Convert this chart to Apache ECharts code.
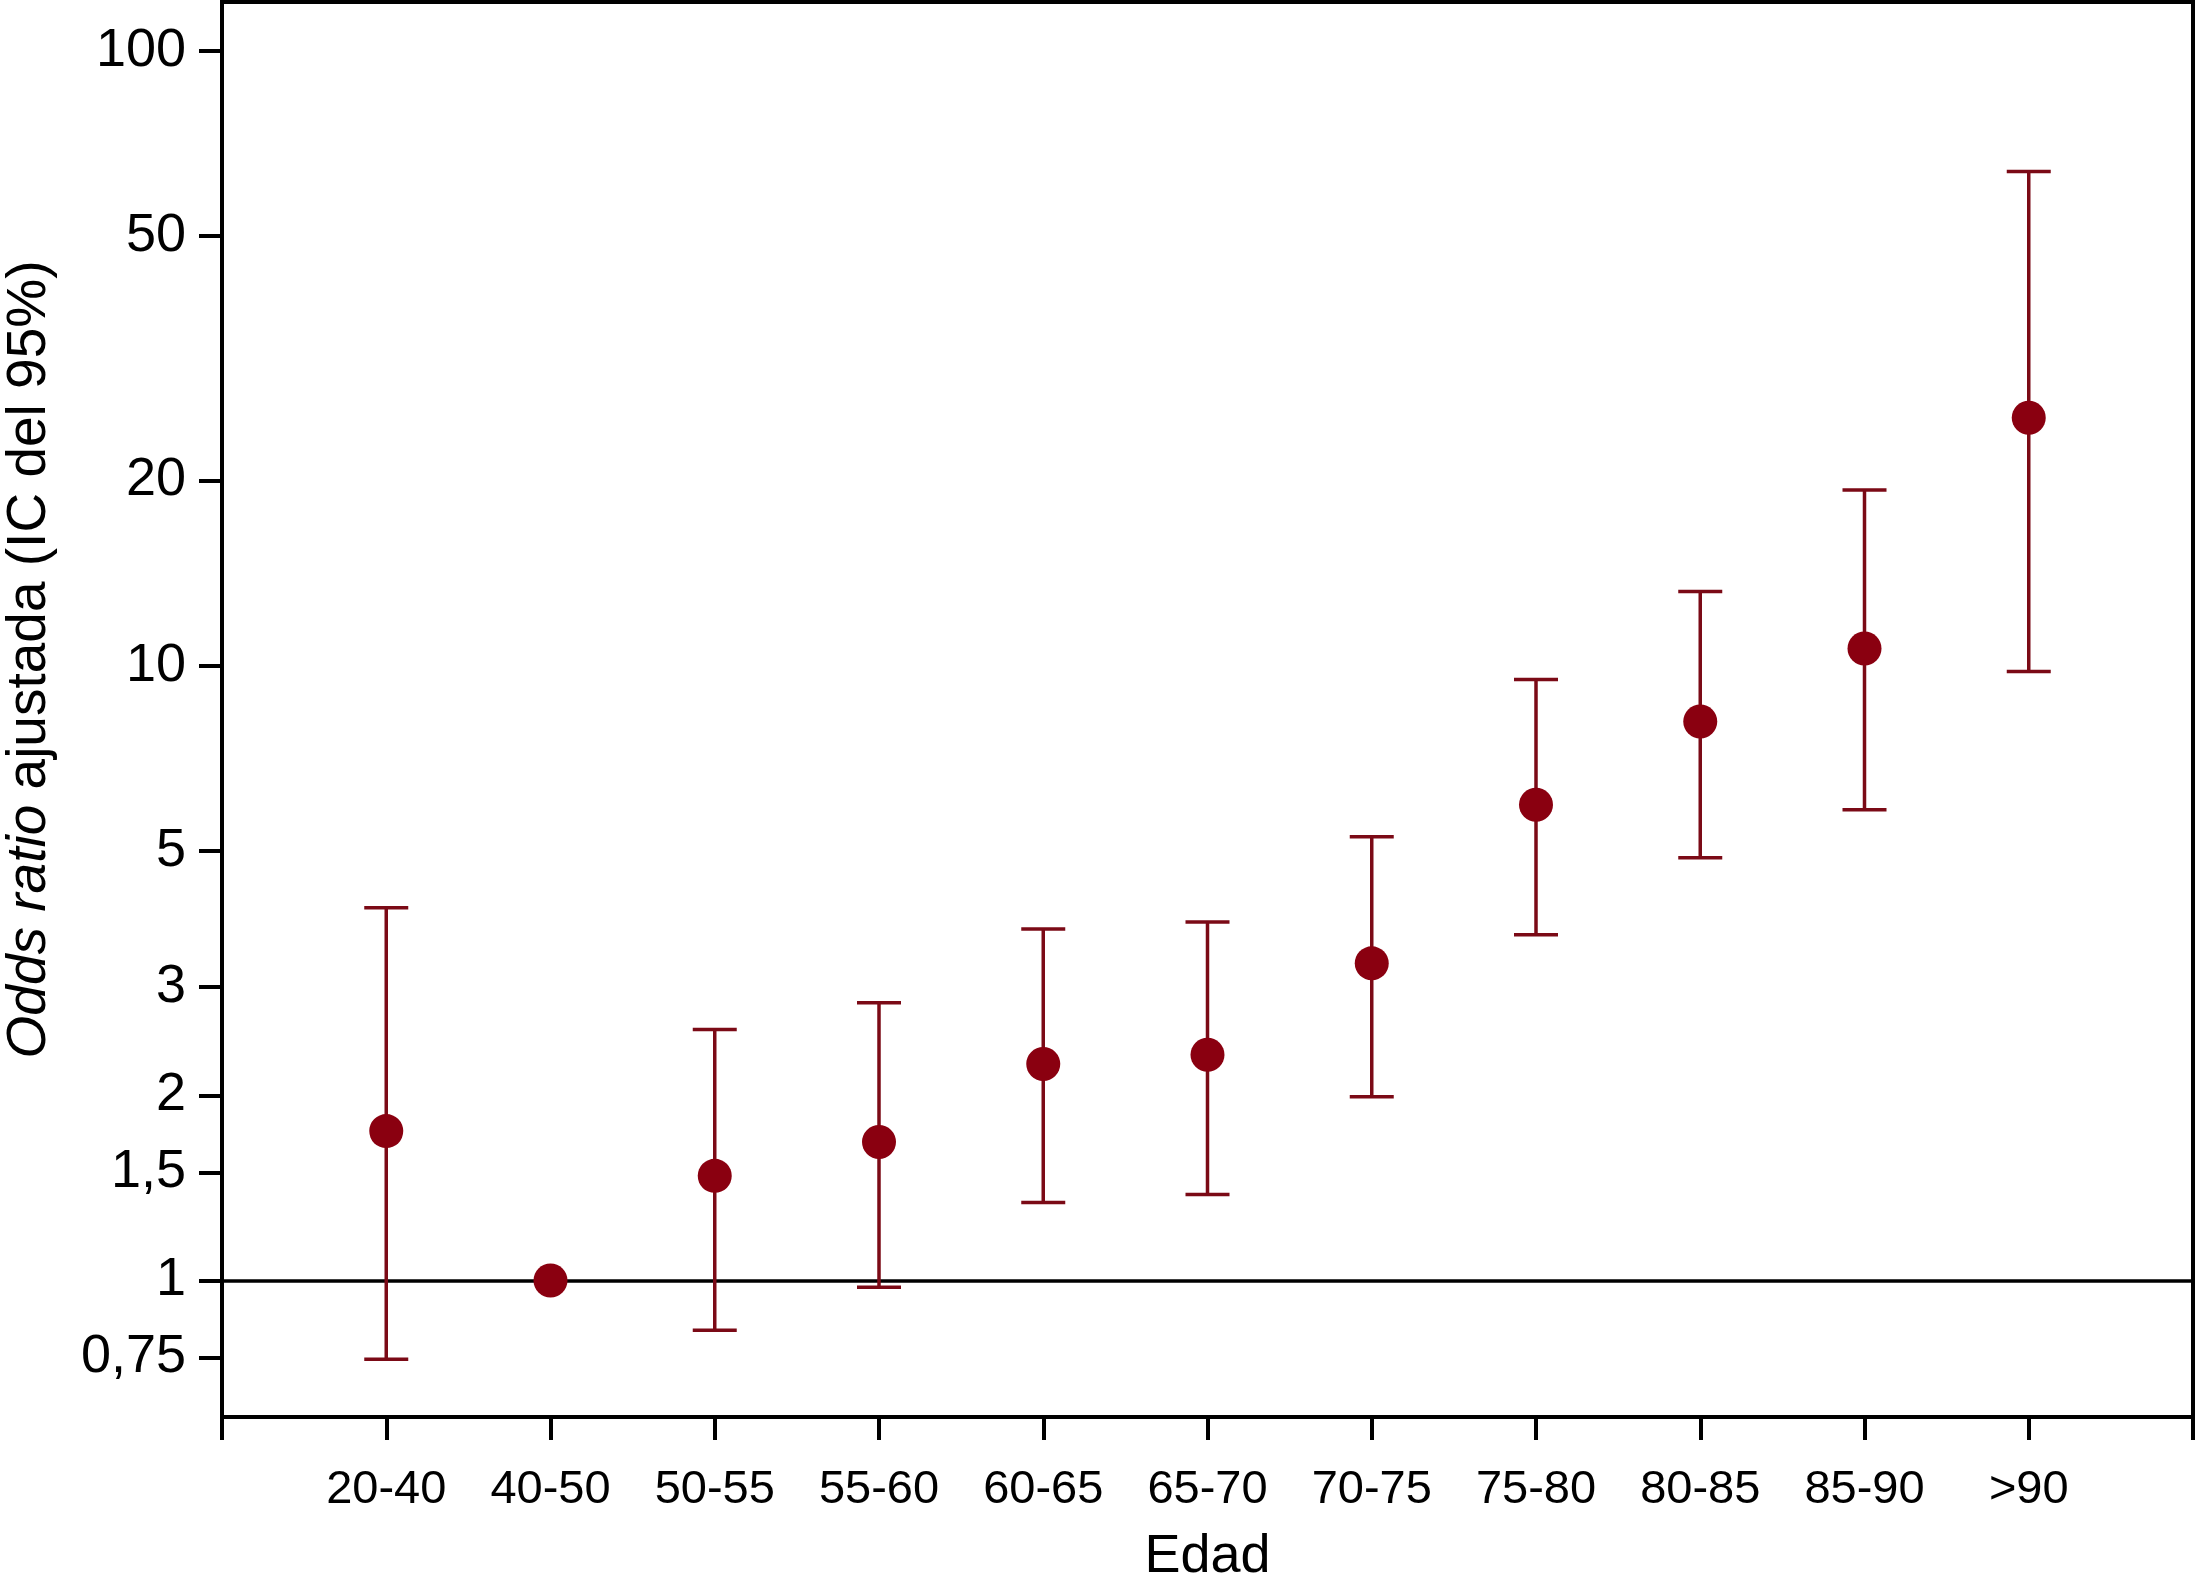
<!DOCTYPE html>
<html>
<head>
<meta charset="utf-8">
<script src="https://cdn.jsdelivr.net/npm/echarts@6/dist/echarts.min.js"></script>
<style>
  html, body { margin: 0; padding: 0; background: #ffffff; }
  #chart { width: 2195px; height: 1586px; }
</style>
</head>
<body>
<div id="chart"></div>
<script>
// ---- Data ----
const categories = ['20-40', '40-50', '50-55', '55-60', '60-65', '65-70', '70-75', '75-80', '80-85', '85-90', '>90'];
const oddsRatio  = [1.75, 1.0, 1.48, 1.68, 2.25, 2.33, 3.28, 5.94, 8.11, 10.66, 25.3];
const lowerCI    = [0.745, null, 0.83, 0.975, 1.34, 1.38, 1.99, 3.65, 4.87, 5.83, 9.78];
const upperCI    = [4.04, null, 2.56, 2.83, 3.73, 3.83, 5.27, 9.49, 13.2, 19.3, 63.6];
const yTickValues = [0.75, 1, 1.5, 2, 3, 5, 10, 20, 50, 100];
const yTickLabels = ['0,75', '1', '1,5', '2', '3', '5', '10', '20', '50', '100'];
const referenceValue = 1;

// ---- Build series data ----
const pointData = oddsRatio.map((v, i) => [i + 1, v]);
const errorData = [];
lowerCI.forEach((lo, i) => {
  if (lo != null && upperCI[i] != null) errorData.push([i + 1, lo, upperCI[i]]);
});

const dark = '#8a0010';
const barColor = '#7b0a16';
const FONT = '"Liberation Sans", Arial, Helvetica, sans-serif';

const chart = echarts.init(document.getElementById('chart'), null, { renderer: 'canvas' });

chart.setOption({
  backgroundColor: '#ffffff',
  animation: false,
  textStyle: { fontFamily: FONT, color: '#000' },
  grid: {
    left: 222, right: 2, top: 2, bottom: 169,
    show: true, borderColor: '#000', borderWidth: 4,
    outerBoundsMode: 'none', containLabel: false
  },
  xAxis: {
    type: 'value',
    min: 0, max: 12, interval: 1,
    name: 'Edad',
    nameLocation: 'middle',
    nameGap: 113,
    nameTextStyle: { fontFamily: FONT, fontSize: 54, color: '#000' },
    axisLine: { show: true, onZero: false, lineStyle: { color: '#000', width: 4 } },
    axisTick: { show: true, inside: false, length: 23, lineStyle: { color: '#000', width: 4 } },
    axisLabel: {
      show: true, margin: 50, fontFamily: FONT, fontSize: 47, color: '#000',
      showMinLabel: true, showMaxLabel: true,
      formatter: (v) => (v >= 1 && v <= categories.length) ? categories[Math.round(v) - 1] : ''
    },
    splitLine: { show: false }
  },
  yAxis: {
    type: 'log',
    logBase: 10,
    min: 0.6, max: 120,
    name: '{i|Odds ratio} ajustada (IC del 95%)',
    nameLocation: 'middle',
    nameRotate: 90,
    nameGap: 165,
    nameTextStyle: {
      fontFamily: FONT, fontSize: 55, color: '#000',
      padding: [0, 0, 0, 100],
      rich: { i: { fontFamily: FONT, fontSize: 55, fontStyle: 'italic', color: '#000' } }
    },
    axisLine: { show: true, onZero: false, lineStyle: { color: '#000', width: 4 } },
    axisTick: { show: true, inside: false, length: 23, lineStyle: { color: '#000', width: 4 }, customValues: yTickValues },
    minorTick: { show: false },
    axisLabel: {
      show: true, margin: 36, fontFamily: FONT, fontSize: 54, color: '#000',
      customValues: yTickValues,
      formatter: (v) => {
        const idx = yTickValues.findIndex(t => Math.abs(t - v) < 1e-6);
        return idx >= 0 ? yTickLabels[idx] : '';
      }
    },
    splitLine: { show: false },
    minorSplitLine: { show: false }
  },
  series: [
    {
      type: 'custom',
      name: 'IC 95%',
      data: errorData,
      encode: { x: 0, y: [1, 2] },
      z: 2,
      renderItem: function (params, api) {
        const x = api.value(0);
        const lo = api.coord([x, api.value(1)]);
        const hi = api.coord([x, api.value(2)]);
        const half = 22;
        const style = { stroke: barColor, lineWidth: 3.5, fill: null };
        return {
          type: 'group',
          children: [
            { type: 'line', shape: { x1: lo[0], y1: lo[1], x2: hi[0], y2: hi[1] }, style: style },
            { type: 'line', shape: { x1: hi[0] - half, y1: hi[1], x2: hi[0] + half, y2: hi[1] }, style: style },
            { type: 'line', shape: { x1: lo[0] - half, y1: lo[1], x2: lo[0] + half, y2: lo[1] }, style: style }
          ]
        };
      },
      markLine: {
        silent: true,
        symbol: ['none', 'none'],
        label: { show: false },
        lineStyle: { color: '#000', width: 3.5, type: 'solid' },
        data: [{ yAxis: referenceValue }],
        z: 1
      }
    },
    {
      type: 'scatter',
      name: 'Odds ratio',
      data: pointData,
      symbol: 'circle',
      symbolSize: 34,
      z: 3,
      itemStyle: { color: dark, opacity: 1 }
    }
  ]
});
</script>
</body>
</html>
